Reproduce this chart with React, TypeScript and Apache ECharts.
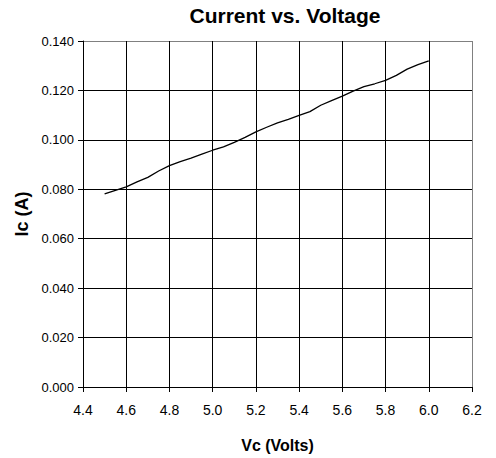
import React, { useEffect, useRef } from "react";
import * as echarts from "echarts";

const voltage = [4.5, 4.55, 4.6, 4.65, 4.7, 4.75, 4.8, 4.85, 4.9, 4.95, 5.0, 5.05, 5.1, 5.15, 5.2, 5.25, 5.3, 5.35, 5.4, 5.45, 5.5, 5.55, 5.6, 5.65, 5.7, 5.75, 5.8, 5.85, 5.9, 5.95, 6.0];
const current = [0.0781, 0.0796, 0.081, 0.083, 0.0848, 0.0874, 0.0896, 0.0912, 0.0926, 0.0942, 0.0958, 0.0972, 0.099, 0.101, 0.1032, 0.1051, 0.1069, 0.1083, 0.1099, 0.1114, 0.114, 0.1159, 0.1177, 0.1197, 0.1215, 0.1227, 0.1241, 0.1261, 0.1286, 0.1304, 0.132];

const FONT = "'Liberation Sans', Arial, sans-serif";

export default function App() {
  const ref = useRef<HTMLDivElement>(null);
  useEffect(() => {
    if (!ref.current) return;
    const chart = echarts.init(ref.current, null, { renderer: "svg" });
    const xColors = Array.from({ length: 10 }, (_, i) => (i === 9 ? "#808080" : "#000000"));
    const yColors = Array.from({ length: 8 }, (_, i) => (i === 7 ? "#808080" : "#000000"));
    chart.setOption({
      animation: false,
      backgroundColor: "#ffffff",
      textStyle: { fontFamily: FONT },
      title: {
        text: "Current vs. Voltage",
        left: 280,
        textAlign: "center",
        top: 0,
        textStyle: { fontFamily: FONT, fontSize: 21, fontWeight: "bold", color: "#000" },
      },
      grid: { left: 83, right: 24, top: 41, bottom: 68, show: false },
      xAxis: {
        type: "value",
        min: 4.4,
        max: 6.2,
        interval: 0.2,
        name: "Vc (Volts)",
        nameLocation: "middle",
        nameGap: 50,
        nameTextStyle: { fontFamily: FONT, fontSize: 16, fontWeight: "bold", color: "#000" },
        axisLine: { show: true, onZero: false, lineStyle: { color: "#000", width: 1 } },
        axisTick: { show: true, inside: false, length: 5, lineStyle: { color: "#000" } },
        axisLabel: {
          margin: 16,
          fontFamily: FONT,
          fontSize: 14,
          color: "#000",
          formatter: (v: number) => v.toFixed(1),
        },
        splitLine: { show: true, lineStyle: { color: xColors, width: 1 } },
      },
      yAxis: {
        type: "value",
        min: 0,
        max: 0.14,
        interval: 0.02,
        name: "Ic (A)",
        nameLocation: "middle",
        nameGap: 48,
        nameTextStyle: { fontFamily: FONT, fontSize: 18, fontWeight: "bold", color: "#000" },
        axisLine: { show: true, onZero: false, lineStyle: { color: "#000", width: 1 } },
        axisTick: { show: true, inside: false, length: 5, lineStyle: { color: "#000" } },
        axisLabel: {
          margin: 9,
          fontFamily: FONT,
          fontSize: 13,
          color: "#000",
          formatter: (v: number) => v.toFixed(3),
        },
        splitLine: { show: true, lineStyle: { color: yColors, width: 1 } },
      },
      series: [
        {
          type: "line",
          data: voltage.map((v, i) => [v, current[i]]),
          showSymbol: false,
          symbol: "none",
          lineStyle: { color: "#000", width: 1.3 },
        },
      ],
    });
    return () => chart.dispose();
  }, []);
  return (
    <div
      ref={ref}
      style={{ position: "absolute", left: 0, top: 0, width: 496, height: 458 }}
    />
  );
}
